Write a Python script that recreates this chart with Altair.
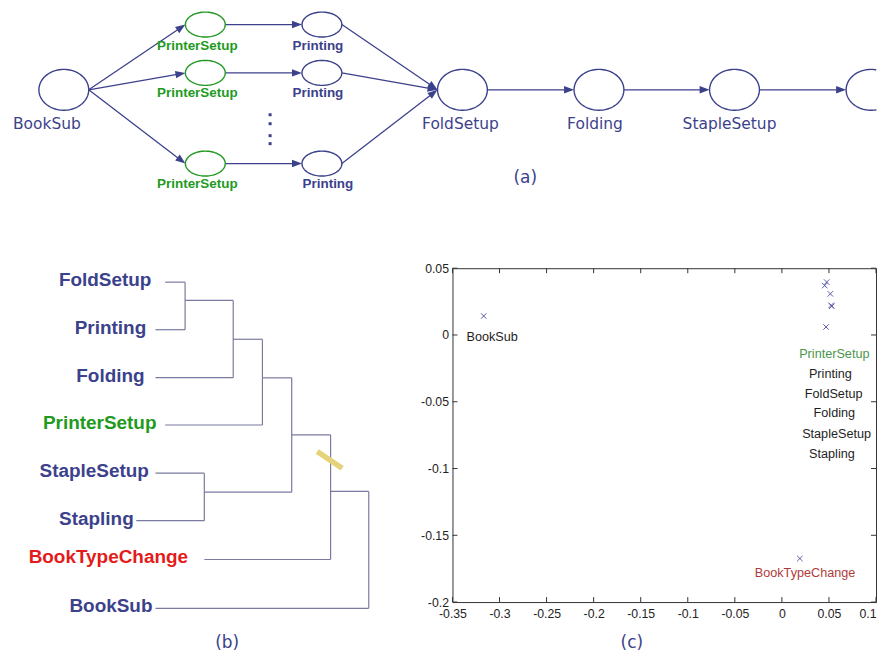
import math
import altair as alt
import pandas as pd

NAVY = "#3c418c"
GREEN = "#229a22"
RED = "#e41b1b"

# ---------------- (a) process graph (layout coordinates) ----------------
a_node_id = ["BookSub", "PS1", "PS2", "PS3", "PR1", "PR2", "PR3",
             "FoldSetup", "Folding", "StapleSetup", "Stapling"]
a_node_kind = ["major", "setup", "setup", "setup", "minor", "minor", "minor",
               "major", "major", "major", "major"]
a_node_x = [64, 206, 206, 206, 323, 323, 323, 464, 601, 737, 874]
a_node_y = [87, 21.5, 70, 161, 21.5, 70, 161, 87, 87, 87, 87]
a_edge_src = ["BookSub", "BookSub", "BookSub", "PS1", "PS2", "PS3",
              "PR1", "PR2", "PR3", "FoldSetup", "Folding", "StapleSetup"]
a_edge_dst = ["PS1", "PS2", "PS3", "PR1", "PR2", "PR3",
              "FoldSetup", "FoldSetup", "FoldSetup", "Folding", "StapleSetup", "Stapling"]
a_label_text = ["BookSub", "PrinterSetup", "PrinterSetup", "PrinterSetup",
                "Printing", "Printing", "Printing", "FoldSetup", "Folding", "StapleSetup"]
a_label_kind = ["major", "setup", "setup", "setup", "minor", "minor", "minor",
                "major", "major", "major"]
a_label_x = [47, 198, 198, 198, 319, 319, 329, 462, 597, 732]
a_label_y = [121, 43, 90, 182, 43, 90, 182, 121, 121, 121]
a_dots_x = [271, 271, 271, 271]
a_dots_y = [112, 121, 133, 141]

# ---------------- (b) dendrogram ----------------
b_leaf = ["FoldSetup", "Printing", "Folding", "PrinterSetup", "StapleSetup",
          "Stapling", "BookTypeChange", "BookSub"]
b_leaf_kind = ["task", "task", "task", "setup", "task", "task", "change", "task"]
b_leaf_y = [280, 327.7, 375.7, 423.3, 471.7, 519.3, 558.3, 607.3]
b_leaf_start = [165.7, 156, 156, 165.7, 156, 136.7, 205, 156]
b_label_x = [105.5, 110.8, 110.8, 100, 94.5, 96.7, 108.7, 111.3]
b_merge_id = ["m1", "m2", "m3", "m4", "m5", "m6", "m7"]
b_merge_a = ["FoldSetup", "m1", "m2", "StapleSetup", "m3", "m5", "m6"]
b_merge_b = ["Printing", "Folding", "PrinterSetup", "Stapling", "m4", "BookTypeChange", "BookSub"]
b_merge_h = [185.7, 234, 263.3, 205, 292.7, 331.7, 370]
b_merge_y = [298.3, 337.3, 376, 490.7, 433.3, 490, 548]
b_cut = [(318.3, 450.0), (343.3, 466.7)]

captions = ["(a)", "(b)", "(c)"]
caption_x = [527, 228, 634]
caption_y = [175, 642, 642]

# ---------------- (c) MDS scatter ----------------
c_pt_x = [-0.3168, 0.0191, 0.0455, 0.0476, 0.0515, 0.0524, 0.0530, 0.0469]
c_pt_y = [0.0142, -0.1674, 0.0370, 0.0396, 0.0308, 0.0222, 0.0215, 0.0060]
c_lab = ["BookSub", "PrinterSetup", "Printing", "FoldSetup", "Folding",
         "StapleSetup", "Stapling", "BookTypeChange"]
c_lab_kind = ["plain", "setup", "plain", "plain", "plain", "plain", "plain", "change"]
c_lab_x = [-0.3078, 0.0557, 0.0515, 0.0550, 0.0557, 0.0581, 0.0532, 0.0246]
c_lab_y = [-0.0015, -0.0144, -0.0296, -0.0443, -0.0584, -0.0744, -0.0890, -0.1786]
c_xticks = [-0.35, -0.3, -0.25, -0.2, -0.15, -0.1, -0.05, 0, 0.05, 0.1]
c_yticks = [0.05, 0, -0.05, -0.1, -0.15, -0.2]

# ======================= styles / geometry helpers =======================
ELL = {"major": (50, 41), "setup": (40, 25), "minor": (40, 25)}
NODE_COL = {"major": NAVY, "setup": GREEN, "minor": NAVY}
A_DOMAIN_X = [8, 880]
A_DOMAIN_Y = [8, 266]
ELL_STROKE = 1.4

ARROW = "M 1 0 L -1 -0.75 L -1 0.75 Z"
ARROW_LEN = 10
XMARK = "M -1 -1 L 1 1 M -1 1 L 1 -1"

# ellipse outlines as polylines (part beyond the panel's right edge left out)
ell_rows = []
limit = A_DOMAIN_X[1] - ELL_STROKE / 2
N = 90
for nid, cx, cy, k in zip(a_node_id, a_node_x, a_node_y, a_node_kind):
    rx, ry = ELL[k][0] / 2, ELL[k][1] / 2
    if cx + rx <= limit:
        ts = [2 * math.pi * i / N for i in range(N + 1)]
    else:
        t0 = math.acos((limit - cx) / rx)
        ts = [t0 + (2 * math.pi - 2 * t0) * i / N for i in range(N + 1)]
    for i, t in enumerate(ts):
        ell_rows.append({"node": nid, "i": i, "x": cx + rx * math.cos(t),
                         "y": cy + ry * math.sin(t), "col": NODE_COL[k]})
ell_df = pd.DataFrame(ell_rows)

pos = {n: (x, y, k) for n, x, y, k in zip(a_node_id, a_node_x, a_node_y, a_node_kind)}
rows = []
for s, d in zip(a_edge_src, a_edge_dst):
    sx, sy, sk = pos[s]
    dx_, dy_, dk = pos[d]
    x1, y1 = sx + ELL[sk][0] / 2, sy
    x2, y2 = dx_ - ELL[dk][0] / 2, dy_
    L = math.hypot(x2 - x1, y2 - y1)
    ux, uy = (x2 - x1) / L, (y2 - y1) / L
    ang = math.degrees(math.atan2(y2 - y1, x2 - x1)) % 360
    rows.append({"x1": x1, "y1": y1, "x2": x2 - ux * 4, "y2": y2 - uy * 4,
                 "hx": x2 - ux * ARROW_LEN / 2, "hy": y2 - uy * ARROW_LEN / 2, "ang": ang})
edges_df = pd.DataFrame(rows)
alab_df = pd.DataFrame({"t": a_label_text, "k": a_label_kind, "x": a_label_x, "y": a_label_y})
dots_df = pd.DataFrame({"x": a_dots_x, "y": a_dots_y})

xa = alt.Scale(domain=A_DOMAIN_X)
ya = alt.Scale(domain=A_DOMAIN_Y, reverse=True)


def AX(f):
    return alt.X(f, type="quantitative", scale=xa, axis=None)


def AY(f):
    return alt.Y(f, type="quantitative", scale=ya, axis=None)


a_edges = alt.Chart(edges_df).mark_rule(color=NAVY, strokeWidth=1.3).encode(
    x=AX("x1"), y=AY("y1"), x2="x2:Q", y2="y2:Q")
a_heads = alt.Chart(edges_df).mark_point(shape=ARROW, filled=True, size=ARROW_LEN ** 2,
                                         color=NAVY, opacity=1).encode(
    x=AX("hx"), y=AY("hy"), angle=alt.Angle("ang:Q", scale=None))
a_nodes = alt.Chart(ell_df).mark_line(strokeWidth=ELL_STROKE).encode(
    x=AX("x"), y=AY("y"), detail="node:N", order="i:Q",
    color=alt.Color("col:N", scale=None))
a_dots = alt.Chart(dots_df).mark_point(shape="square", filled=True, size=9, color=NAVY, opacity=1).encode(
    x=AX("x"), y=AY("y"))
a_big = alt.Chart(alab_df[alab_df.k == "major"]).mark_text(
    font="DejaVu Sans", fontSize=15.5, color=NAVY, baseline="middle").encode(
    x=AX("x"), y=AY("y"), text="t:N")
a_small_g = alt.Chart(alab_df[alab_df.k == "setup"]).mark_text(
    font="Liberation Sans", fontWeight="bold", fontSize=13.5, color=GREEN, baseline="middle").encode(
    x=AX("x"), y=AY("y"), text="t:N")
a_small_n = alt.Chart(alab_df[alab_df.k == "minor"]).mark_text(
    font="Liberation Sans", fontWeight="bold", fontSize=13.5, color=NAVY, baseline="middle").encode(
    x=AX("x"), y=AY("y"), text="t:N")
cap_df = pd.DataFrame({"t": captions, "x": caption_x, "y": caption_y})
a_cap = alt.Chart(cap_df.iloc[:1]).mark_text(
    font="DejaVu Sans", fontSize=17, color=NAVY, baseline="middle").encode(
    x=AX("x"), y=AY("y"), text="t:N")

panel_a = alt.layer(a_edges, a_heads, a_nodes, a_dots, a_big, a_small_g, a_small_n, a_cap).properties(
    width=A_DOMAIN_X[1] - A_DOMAIN_X[0], height=A_DOMAIN_Y[1] - A_DOMAIN_Y[0])

# ---------------- (b) build segments ----------------
node_y = {n: y for n, y in zip(b_leaf, b_leaf_y)}
node_x = {n: x for n, x in zip(b_leaf, b_leaf_start)}
segs = []
for m, a, b, h, my in zip(b_merge_id, b_merge_a, b_merge_b, b_merge_h, b_merge_y):
    for c in (a, b):
        segs.append({"x1": node_x[c], "y1": node_y[c], "x2": h, "y2": node_y[c]})
    segs.append({"x1": h, "y1": node_y[a], "x2": h, "y2": node_y[b]})
    node_x[m] = h
    node_y[m] = my
segs_df = pd.DataFrame(segs)
cut_df = pd.DataFrame({"x1": [b_cut[0][0]], "y1": [b_cut[0][1]], "x2": [b_cut[1][0]], "y2": [b_cut[1][1]]})
LEAF_COL = {"task": NAVY, "setup": GREEN, "change": RED}
blab_df = pd.DataFrame({"t": b_leaf, "x": b_label_x, "y": b_leaf_y,
                        "col": [LEAF_COL[k] for k in b_leaf_kind]})

B_DOMAIN_X = [8, 408]
B_DOMAIN_Y = [266, 646]
xb = alt.Scale(domain=B_DOMAIN_X)
yb = alt.Scale(domain=B_DOMAIN_Y, reverse=True)


def BX(f):
    return alt.X(f, type="quantitative", scale=xb, axis=None)


def BY(f):
    return alt.Y(f, type="quantitative", scale=yb, axis=None)


b_segs = alt.Chart(segs_df).mark_rule(color="#7a7aa0", strokeWidth=1.2).encode(
    x=BX("x1"), y=BY("y1"), x2="x2:Q", y2="y2:Q")
b_cutm = alt.Chart(cut_df).mark_rule(color="#e6d27a", strokeWidth=5.5, strokeCap="butt").encode(
    x=BX("x1"), y=BY("y1"), x2="x2:Q", y2="y2:Q")
b_lab = alt.Chart(blab_df).mark_text(font="Liberation Sans", fontWeight="bold", fontSize=19,
                                     baseline="middle", dy=-2).encode(
    x=BX("x"), y=BY("y"), text="t:N", color=alt.Color("col:N", scale=None))
b_cap = alt.Chart(cap_df.iloc[1:]).mark_text(
    font="DejaVu Sans", fontSize=17, color=NAVY, baseline="middle").encode(
    x=BX("x"), y=BY("y"), text="t:N")
panel_b = alt.layer(b_segs, b_cutm, b_lab, b_cap).properties(
    width=B_DOMAIN_X[1] - B_DOMAIN_X[0], height=B_DOMAIN_Y[1] - B_DOMAIN_Y[0])

# ---------------- (c) ----------------
CW, CH = 425, 335
xs = alt.Scale(domain=[-0.35, 0.1], nice=False, zero=False)
ys = alt.Scale(domain=[-0.2, 0.05], nice=False, zero=False)
fmt = "datum.value < 0 ? '-' + format(-datum.value, '~g') : format(datum.value, '~g')"
xaxis = alt.Axis(values=c_xticks, ticks=False, tickSize=0, domain=False, grid=False, title=None,
                 labelExpr=fmt, labelFont="Liberation Sans", labelFontSize=12.3,
                 labelColor="#222222", labelPadding=5, labelOverlap=False,
                 labelAlign={"condition": {"test": "datum.value > 0.09", "value": "right"},
                             "value": "center"})
yaxis = alt.Axis(values=c_yticks, ticks=False, tickSize=0, domain=False, grid=False, title=None,
                 labelExpr=fmt, labelFont="Liberation Sans", labelFontSize=12.3,
                 labelColor="#222222", labelPadding=4, labelOverlap=False)


def CX(f):
    return alt.X(f, type="quantitative", scale=xs, axis=xaxis)


def CY(f):
    return alt.Y(f, type="quantitative", scale=ys, axis=yaxis)


TICK = 5
tx = TICK * 0.45 / CW
ty = TICK * 0.25 / CH
xt = pd.DataFrame({"v": c_xticks})
yt = pd.DataFrame({"v": c_yticks})
t_top = alt.Chart(xt).mark_rule(color="#333333").encode(
    x=CX("v"), y=alt.Y(datum=0.05, scale=ys, axis=yaxis), y2=alt.Y2(datum=0.05 - ty))
t_bot = alt.Chart(xt).mark_rule(color="#333333").encode(
    x=CX("v"), y=alt.Y(datum=-0.2, scale=ys, axis=yaxis), y2=alt.Y2(datum=-0.2 + ty))
t_left = alt.Chart(yt).mark_rule(color="#333333").encode(
    y=CY("v"), x=alt.X(datum=-0.35, scale=xs, axis=xaxis), x2=alt.X2(datum=-0.35 + tx))
t_right = alt.Chart(yt).mark_rule(color="#333333").encode(
    y=CY("v"), x=alt.X(datum=0.1, scale=xs, axis=xaxis), x2=alt.X2(datum=0.1 - tx))

pts_df = pd.DataFrame({"x": c_pt_x, "y": c_pt_y})
c_pts = alt.Chart(pts_df).mark_point(shape=XMARK, filled=False, size=30, strokeWidth=1,
                                     color="#5a5aa8", opacity=1).encode(x=CX("x"), y=CY("y"))
CCOL = {"plain": "#1e1e1e", "setup": "#4a964a", "change": "#b03a3a"}
clab_df = pd.DataFrame({"t": c_lab, "x": c_lab_x, "y": c_lab_y,
                        "col": [CCOL[k] for k in c_lab_kind]})
c_lab_m = alt.Chart(clab_df).mark_text(font="Liberation Sans", fontSize=12.7, baseline="middle").encode(
    x=CX("x"), y=CY("y"), text="t:N", color=alt.Color("col:N", scale=None))

panel_c = alt.layer(t_top, t_bot, t_left, t_right, c_pts, c_lab_m).properties(
    width=CW, height=CH, view=alt.ViewBackground(stroke="#333333", strokeWidth=1))

row = alt.hconcat(panel_b, panel_c, spacing=46, bounds="flush")
chart = alt.vconcat(panel_a, row, spacing=0, bounds="flush").properties(
    padding=0, background="white"
).configure_view(stroke=None)

chart.save("out.html", embed_options={"renderer": "svg", "actions": False})
